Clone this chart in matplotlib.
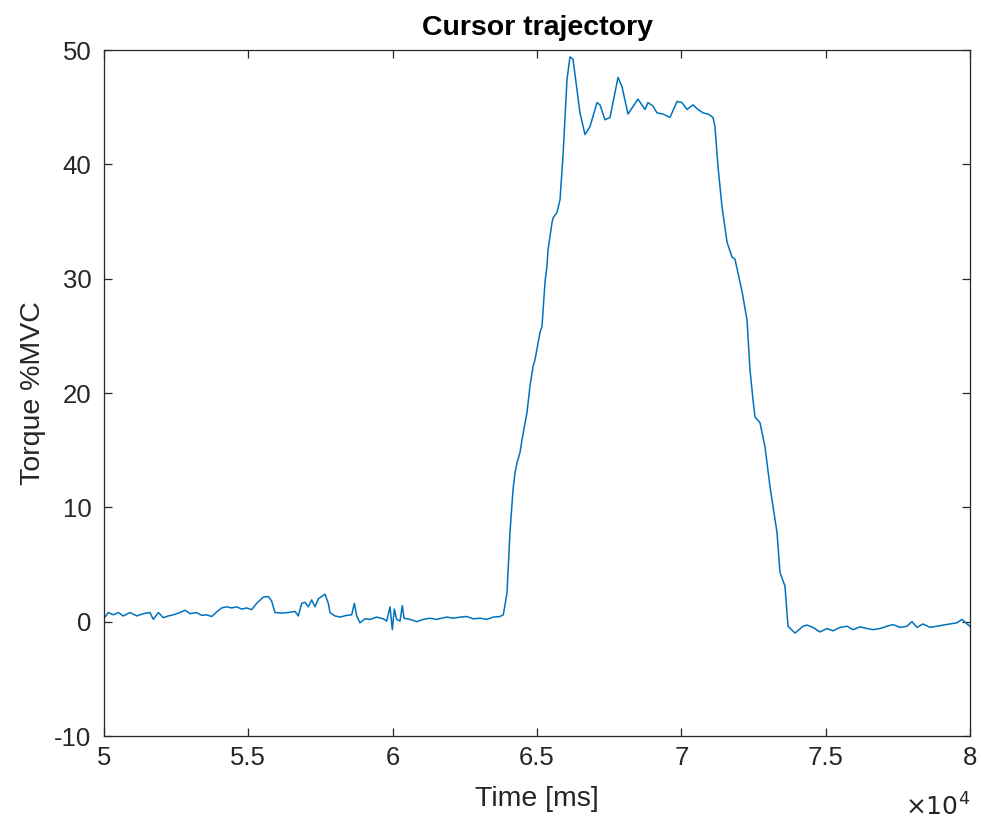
import matplotlib
matplotlib.use("Agg")
import matplotlib.pyplot as plt
from matplotlib.ticker import FuncFormatter

plt.rcParams['font.family'] = ['Liberation Sans', 'DejaVu Sans']
plt.rcParams['axes.unicode_minus'] = False

# Time (ms) and torque (%MVC)
time_ms = [
    50000, 50150, 50323, 50497, 50670, 50901, 51132, 51362, 51593, 51709,
    51882, 52055, 52228, 52401, 52633, 52806, 52979, 53210, 53383, 53556,
    53730, 53903, 54076, 54249, 54422, 54595, 54769, 54942, 55115, 55288,
    55519, 55692, 55808, 55924, 56155, 56386, 56616, 56732, 56847, 56963,
    57078, 57194, 57309, 57425, 57540, 57656, 57771, 57829, 58002, 58175,
    58406, 58580, 58672, 58753, 58868, 59042, 59215, 59446, 59677, 59792,
    59908, 59989, 60058, 60139, 60254, 60335, 60393, 60600, 60831, 61062,
    61293, 61525, 61871, 62102, 62333, 62564, 62795, 63025, 63256, 63487,
    63718, 63833,
    63960, 64064, 64168, 64237, 64307, 64411, 64480, 64653, 64757, 64861,
    64930, 65104, 65173, 65277, 65346, 65381, 65520, 65554, 65693, 65797,
    65900, 66039, 66143, 66247, 66386, 66489, 66663, 66836, 67078, 67182,
    67355, 67529, 67806, 67944, 68152, 68498, 68741, 68845, 69018, 69157,
    69365, 69607, 69850, 70023, 70196, 70404, 70577, 70750, 70924, 71097,
    71166, 71270, 71409, 71582, 71755, 71859, 72101, 72275, 72379, 72483,
    72552, 72725, 72898, 73072, 73314, 73418, 73591, 73695,
    73937, 74214, 74353, 74561, 74803, 75046, 75254, 75496, 75739, 75946,
    76189, 76431, 76639, 76882, 77124, 77332, 77575, 77817, 77990, 78164,
    78371, 78614, 78856, 79064, 79307, 79549, 79723, 79896, 80000,
]
torque_mvc = [
    0.3, 0.8, 0.6, 0.8, 0.5, 0.8, 0.5, 0.7, 0.8, 0.2,
    0.8, 0.35, 0.5, 0.6, 0.8, 1.0, 0.7, 0.8, 0.55, 0.6,
    0.45, 0.85, 1.2, 1.3, 1.2, 1.3, 1.1, 1.2, 1.05, 1.6,
    2.15, 2.2, 1.8, 0.8, 0.75, 0.8, 0.9, 0.5, 1.6, 1.7,
    1.3, 1.9, 1.3, 2.0, 2.2, 2.4, 1.6, 0.8, 0.5, 0.4,
    0.55, 0.6, 1.6, 0.5, -0.1, 0.25, 0.2, 0.4, 0.25, 0.05,
    1.3, -0.7, 1.1, 0.2, 0.05, 1.4, 0.3, 0.2, 0.0, 0.2,
    0.3, 0.2, 0.4, 0.3, 0.4, 0.45, 0.25, 0.3, 0.2, 0.4,
    0.45, 0.6,
    2.5, 7.8, 11.5, 13.0, 13.9, 14.8, 15.9, 18.3, 20.6, 22.3,
    22.9, 25.3, 25.8, 29.7, 31.1, 32.5, 34.9, 35.3, 35.8, 36.9,
    40.7, 47.4, 49.4, 49.2, 46.5, 44.5, 42.6, 43.3, 45.4, 45.2,
    43.9, 44.1, 47.6, 46.8, 44.4, 45.7, 44.8, 45.4, 45.1, 44.5,
    44.4, 44.1, 45.5, 45.4, 44.8, 45.2, 44.8, 44.5, 44.4, 44.1,
    43.3, 39.8, 36.3, 33.2, 31.9, 31.7, 28.9, 26.4, 22.0, 19.4,
    17.9, 17.4, 15.3, 11.8, 7.8, 4.3, 3.1, -0.4,
    -1.0, -0.4, -0.3, -0.5, -0.9, -0.6, -0.8, -0.5, -0.4, -0.7,
    -0.45, -0.6, -0.7, -0.6, -0.4, -0.25, -0.5, -0.4, 0.0, -0.5,
    -0.2, -0.5, -0.4, -0.3, -0.2, -0.1, 0.2, -0.2, -0.4,
]

x_ticks = [50000, 55000, 60000, 65000, 70000, 75000, 80000]
y_ticks = [-10, 0, 10, 20, 30, 40, 50]

fig = plt.figure(figsize=(9.81, 8.22), dpi=100)
ax = fig.add_axes([104/981, 1 - 736/822, (970-104)/981, (736-50)/822])

ax.plot(time_ms, torque_mvc, color='#0072BD', lw=1.1)

ax.set_xlim(50000, 80000)
ax.set_ylim(-10, 50)
ax.set_xticks(x_ticks)
ax.set_yticks(y_ticks)
ax.xaxis.set_major_formatter(FuncFormatter(lambda v, p: f"{v/1e4:g}"))

axc = '#262626'
for s in ax.spines.values():
    s.set_color(axc)
    s.set_linewidth(0.9)
ax.tick_params(direction='in', length=6, width=0.9, colors=axc,
               labelsize=18.5, top=True, right=True)
ax.tick_params(axis='x', pad=7)
ax.tick_params(axis='y', pad=9)
for lab in ax.get_xticklabels() + ax.get_yticklabels():
    lab.set_color(axc)

ax.set_title('Cursor trajectory', fontsize=20.5, fontweight='bold', pad=11)
ax.set_xlabel('Time [ms]', fontsize=20.5, color=axc, labelpad=12)
ax.set_ylabel('Torque %MVC', fontsize=20.5, color=axc, labelpad=6)
ax.text(1.0, -0.104, r'$\times10^{4}$', transform=ax.transAxes,
        ha='right', va='center', fontsize=18, color=axc)

fig.savefig('out.png', dpi=100)
